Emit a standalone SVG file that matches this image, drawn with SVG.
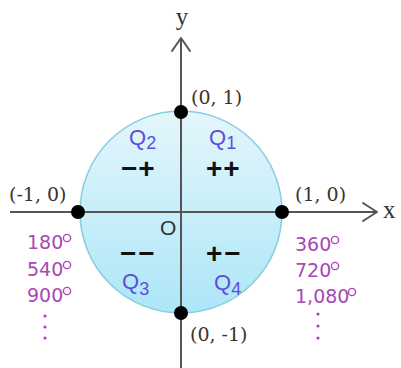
<svg xmlns="http://www.w3.org/2000/svg" width="401" height="368" viewBox="0 0 401 368">
<defs>
<linearGradient id="g" x1="0" y1="0" x2="0" y2="1">
<stop offset="0" stop-color="#e4f6fb"/>
<stop offset="1" stop-color="#ade6f8"/>
</linearGradient>
</defs>
<style>
.ax{stroke:#555;stroke-width:2;fill:none}
.ah{stroke:#555;stroke-width:2;fill:none;stroke-linecap:round;stroke-linejoin:round}
.pt{fill:#000}
.co{font-family:"DejaVu Serif",serif;font-size:19px;fill:#3a3330}
.q{font-family:"Liberation Sans",Arial,sans-serif;font-size:22px;fill:#5a4fdc}
.qs{font-size:18px}
.sg{font-family:"Liberation Sans",Arial,sans-serif;font-size:28px;font-weight:bold;fill:#111}
.an{font-family:"DejaVu Sans",Verdana,sans-serif;font-size:19px;fill:#a848b4}
.dg{fill:none;stroke:#a848b4;stroke-width:1.4}
.dt{fill:#a848b4}
</style>
<g id="circle">
<circle cx="181" cy="212" r="101" fill="url(#g)" stroke="#86cde0" stroke-width="1.5"/>
</g>
<g id="connectors">
<line class="ax" x1="10" y1="212" x2="376" y2="212"/>
<polyline class="ah" points="363,203 377,212 363,221"/>
<line class="ax" x1="181" y1="368" x2="181" y2="38"/>
<polyline class="ah" points="172,51 181,38 190,51"/>
</g>
<g id="axis-labels">
<text x="182" y="25" text-anchor="middle" style="font-family:'Liberation Serif',serif;font-size:25px;fill:#333">y</text>
<text x="383" y="218" style="font-family:'Liberation Serif',serif;font-size:25px;fill:#333">x</text>
<text x="160" y="235" style="font-family:'Liberation Sans',Arial,sans-serif;font-size:21px;fill:#333">O</text>
</g>
<g id="p-top"><circle class="pt" cx="181" cy="112" r="7"/><text class="co" x="191" y="104">(0, 1)</text></g>
<g id="p-left"><circle class="pt" cx="78" cy="212" r="7"/><text class="co" x="9" y="201">(-1, 0)</text></g>
<g id="p-right"><circle class="pt" cx="282" cy="212" r="7"/><text class="co" x="295" y="201">(1, 0)</text></g>
<g id="p-bottom"><circle class="pt" cx="181" cy="313" r="7"/><text class="co" x="190" y="341">(0, -1)</text></g>
<g id="q1"><text class="q" x="209" y="145">Q<tspan class="qs" dy="4">1</tspan></text><text class="sg" x="206" y="178" letter-spacing="1">++</text></g>
<g id="q2"><text class="q" x="129" y="145">Q<tspan class="qs" dy="4">2</tspan></text><text class="sg" x="121" y="178" letter-spacing="1">−+</text></g>
<g id="q3"><text class="q" x="122" y="289">Q<tspan class="qs" dy="6">3</tspan></text><text class="sg" x="120" y="263" letter-spacing="2">−−</text></g>
<g id="q4"><text class="q" x="214" y="290">Q<tspan class="qs" dy="5">4</tspan></text><text class="sg" x="206" y="263" letter-spacing="2">+−</text></g>
<g id="angles-left">
<text class="an" x="27" y="249">180</text><circle class="dg" cx="67" cy="238" r="3.6"/>
<text class="an" x="27" y="276">540</text><circle class="dg" cx="67" cy="265" r="3.6"/>
<text class="an" x="27" y="302">900</text><circle class="dg" cx="67" cy="291" r="3.6"/>
<circle class="dt" cx="45" cy="316" r="1.6"/><circle class="dt" cx="45" cy="327" r="1.6"/><circle class="dt" cx="45" cy="338" r="1.6"/>
</g>
<g id="angles-right">
<text class="an" x="295" y="251">360</text><circle class="dg" cx="335" cy="240" r="3.6"/>
<text class="an" x="295" y="277">720</text><circle class="dg" cx="335" cy="266" r="3.6"/>
<text class="an" x="295" y="303">1,080</text><circle class="dg" cx="352" cy="292" r="3.6"/>
<circle class="dt" cx="318" cy="314" r="1.6"/><circle class="dt" cx="318" cy="326" r="1.6"/><circle class="dt" cx="318" cy="338" r="1.6"/>
</g>
</svg>
